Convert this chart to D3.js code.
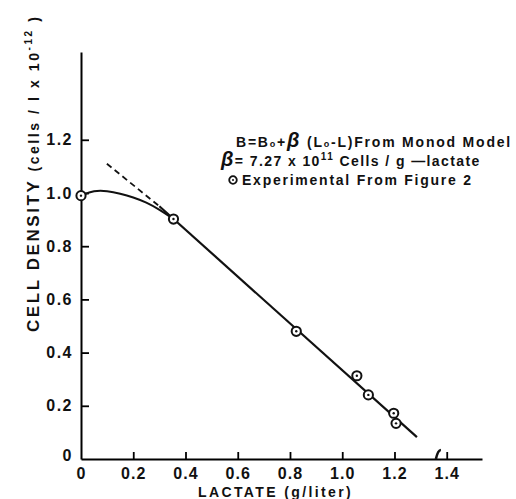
<!DOCTYPE html>
<html>
<head>
<meta charset="utf-8">
<script src="https://cdn.jsdelivr.net/npm/d3@7"></script>
<style>
  body { margin: 0; background: #fff; }
  svg { display: block; }
  text { font-family: "Liberation Sans", Arial, sans-serif; fill: #111; }
</style>
</head>
<body>
<div id="chart"></div>
<script>
// ticks
const xTicks = [0, 0.2, 0.4, 0.6, 0.8, 1.0, 1.2, 1.4];
const xTickLabels = ["0", "0.2", "0.4", "0.6", "0.8", "1.0", "1.2", "1.4"];
const yTicks = [0, 0.2, 0.4, 0.6, 0.8, 1.0, 1.2];
const yTickLabels = ["0", "0.2", "0.4", "0.6", "0.8", "1.0", "1.2"];

// experimental points (lactate g/l, density)
const expLactate = [0, 0.354, 0.824, 1.056, 1.10, 1.197, 1.206];
const expDensity = [0.99, 0.902, 0.48, 0.313, 0.241, 0.172, 0.134];

// monod model line (solid part) and its dashed extension
const modelLactate = [0.30, 1.286];
const modelDensity = [0.95, 0.082];
const dashLactate = [0.099, 0.30];
const dashDensity = [1.11, 0.95];

// fitted curve near the start
const curveLactate = [0, 0.05, 0.1, 0.15, 0.2, 0.25, 0.3, 0.354];
const curveDensity = [0.99, 1.01, 1.008, 0.998, 0.984, 0.965, 0.938, 0.902];

const width = 516, height = 499;
const margin = { top: 52, right: 34, bottom: 40, left: 81 };

const svg = d3.select("#chart").append("svg")
  .attr("width", width)
  .attr("height", height);

const x = d3.scaleLinear()
  .domain([0, 1.535])
  .range([margin.left, width - margin.right]);

const y = d3.scaleLinear()
  .domain([0, 1.53])
  .range([height - margin.bottom, margin.top]);

const zip = (a, b) => a.map((v, i) => [v, b[i]]);
const line = d3.line().x(d => x(d[0])).y(d => y(d[1]));

// stretch a text to a given width with letter spacing
function fit(sel, w) {
  const node = sel.node();
  const n = node.textContent.length;
  const cur = node.getBBox().width;
  sel.attr("letter-spacing", (w - cur) / n);
}

// x axis
const xAxis = svg.append("g")
  .attr("transform", `translate(0, ${y(0)})`)
  .call(d3.axisBottom(x).tickValues(xTicks).tickSize(-7).tickFormat((d, i) => xTickLabels[i]).tickSizeOuter(0));
xAxis.select(".domain").attr("stroke-width", 2);
xAxis.selectAll(".tick line").attr("stroke-width", 1.8);
xAxis.selectAll(".tick text")
  .attr("y", 9)
  .attr("font-size", 16)
  .attr("font-weight", "bold")
  .attr("letter-spacing", 1);
xAxis.selectAll(".tick").filter(d => d === 0).select("line").remove();

// axis break mark
const breakMarks = [1.37];
svg.append("g").selectAll("path")
  .data(breakMarks)
  .enter()
  .append("path")
  .attr("d", d => `M${x(d) - 3},${y(0)} Q${x(d) - 1},${y(0) - 9} ${x(d) + 2},${y(0) - 9}`)
  .attr("stroke", "#111")
  .attr("stroke-width", 2.6)
  .attr("fill", "none");

// y axis
const yAxis = svg.append("g")
  .attr("transform", `translate(${x(0)}, 0)`)
  .call(d3.axisLeft(y).tickValues(yTicks).tickSize(-8).tickFormat((d, i) => yTickLabels[i]).tickSizeOuter(0));
yAxis.select(".domain").attr("stroke-width", 2);
yAxis.selectAll(".tick line").attr("stroke-width", 1.8);
yAxis.selectAll(".tick text")
  .attr("x", -8)
  .attr("font-size", 16)
  .attr("font-weight", "bold")
  .attr("letter-spacing", 1.5);
yAxis.selectAll(".tick").filter(d => d === 0).select("line").remove();
yAxis.selectAll(".tick").filter(d => d === 0).select("text").attr("dy", "0.1em");

// curve, dashed extension, model line
svg.append("path")
  .datum(zip(curveLactate, curveDensity))
  .attr("d", d3.line().x(d => x(d[0])).y(d => y(d[1])).curve(d3.curveBasis))
  .attr("fill", "none").attr("stroke", "#111").attr("stroke-width", 2);

svg.append("path")
  .datum(zip(dashLactate, dashDensity))
  .attr("d", line)
  .attr("fill", "none").attr("stroke", "#111").attr("stroke-width", 1.8)
  .attr("stroke-dasharray", "6,4");

svg.append("path")
  .datum(zip(modelLactate, modelDensity))
  .attr("d", line)
  .attr("fill", "none").attr("stroke", "#111").attr("stroke-width", 2.2);

// experimental circles
const pts = svg.append("g").selectAll("g")
  .data(zip(expLactate, expDensity))
  .enter()
  .append("g")
  .attr("transform", d => `translate(${x(d[0])}, ${y(d[1])})`);
pts.append("circle").attr("r", 4.6).attr("fill", "#fff").attr("stroke", "#111").attr("stroke-width", 2);
pts.append("circle").attr("r", 1.2).attr("fill", "#111");

// legend
const legend = svg.append("g").attr("font-weight", "bold").attr("font-size", 14);
const l1 = legend.append("text").attr("x", 236).attr("y", 147);
l1.append("tspan").text("B=B");
l1.append("tspan").attr("font-size", 9).text("o");
l1.append("tspan").text("+");
l1.append("tspan").attr("font-size", 20).attr("font-style", "italic").text("β");
l1.append("tspan").text(" (L");
l1.append("tspan").attr("font-size", 9).text("o");
l1.append("tspan").text("-L)From Monod Model");
fit(l1, 276);

const l2 = legend.append("text").attr("x", 221).attr("y", 166);
l2.append("tspan").attr("font-size", 20).attr("font-style", "italic").text("β");
l2.append("tspan").text("= 7.27 x 10");
l2.append("tspan").attr("font-size", 10).attr("dy", -6).text("11");
l2.append("tspan").attr("dy", 6).text(" Cells / g \u2014lactate");
fit(l2, 261);

const l3 = legend.append("g").attr("transform", "translate(233, 180)");
l3.append("circle").attr("r", 3.8).attr("fill", "#fff").attr("stroke", "#111").attr("stroke-width", 1.8);
l3.append("circle").attr("r", 1).attr("fill", "#111");
const l3t = legend.append("text").attr("x", 242).attr("y", 185).text("Experimental From Figure 2");
fit(l3t, 231);

// axis titles
const xt = svg.append("text")
  .attr("x", 198)
  .attr("y", 497)
  .attr("font-size", 14)
  .attr("font-weight", "bold")
  .text("LACTATE (g/liter)");
fit(xt, 155);

const yt = svg.append("text")
  .attr("transform", "translate(39, 332) rotate(-90)")
  .attr("font-weight", "bold")
  .attr("font-size", 17);
yt.append("tspan").text("CELL  DENSITY ");
yt.append("tspan").attr("font-size", 14).text("(cells / l x 10");
yt.append("tspan").attr("font-size", 10).attr("dy", -7).text("-12");
yt.append("tspan").attr("font-size", 14).attr("dy", 7).text(" )");
fit(yt, 320);
</script>
</body>
</html>
